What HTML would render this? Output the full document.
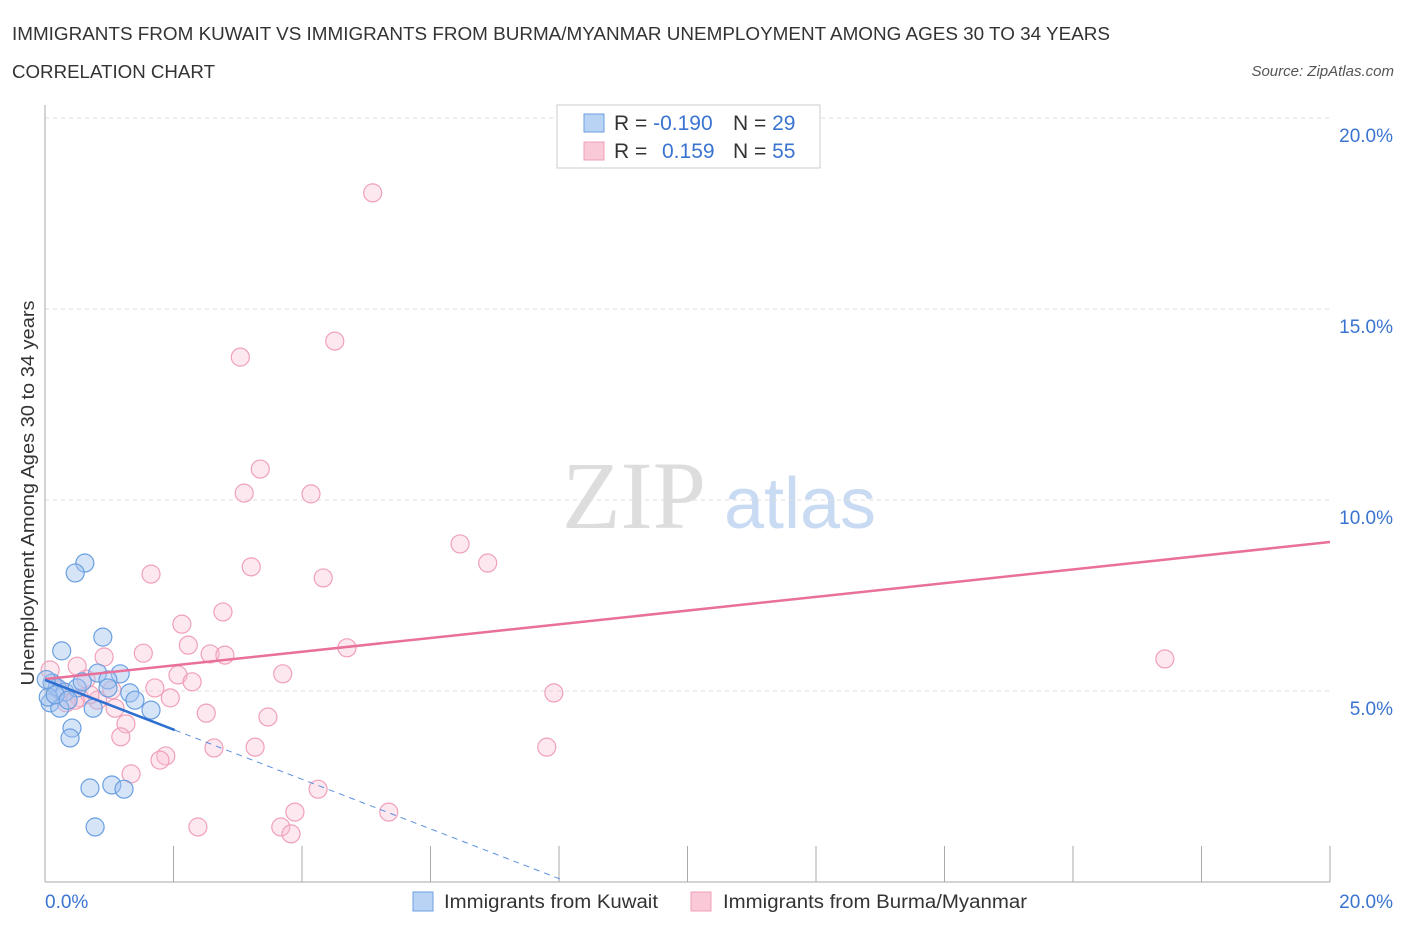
<!DOCTYPE html>
<html><head><meta charset="utf-8"><style>
body{margin:0;background:#fff;font-family:"Liberation Sans",sans-serif;}
svg{display:block}
</style></head><body>
<svg width="1406" height="930" id="chart">
<text x="12" y="40" font-size="18" fill="#333" textLength="1098" lengthAdjust="spacingAndGlyphs">IMMIGRANTS FROM KUWAIT VS IMMIGRANTS FROM BURMA/MYANMAR UNEMPLOYMENT AMONG AGES 30 TO 34 YEARS</text>
<text x="12" y="78" font-size="18" fill="#333" textLength="203" lengthAdjust="spacingAndGlyphs">CORRELATION CHART</text>
<text x="1394" y="76" font-size="15" fill="#555" font-style="italic" text-anchor="end">Source: ZipAtlas.com</text>
<text x="634" y="528" font-size="96" fill="#ddd" font-family="Liberation Serif" text-anchor="middle">ZIP</text>
<text x="800" y="528" font-size="72" fill="#c9dbf2" text-anchor="middle">atlas</text>
<text transform="translate(34,493) rotate(-90)" font-size="18" fill="#333" text-anchor="middle" textLength="385" lengthAdjust="spacingAndGlyphs">Unemployment Among Ages 30 to 34 years</text>
<g id="grid"></g><g id="pts"></g><g id="trend"></g>
<g>
<rect x="557" y="105" width="263" height="63" fill="#fff" stroke="#ccc"/>
<rect x="584" y="114" width="20" height="18" fill="#b9d3f5" stroke="#6a9fe0"/>
<rect x="584" y="142" width="20" height="18" fill="#f9c9d8" stroke="#f0a0b8"/>
<text x="614" y="130" font-size="21" fill="#333">R = <tspan fill="#3a74d0">-0.190</tspan></text>
<text x="733" y="130" font-size="21" fill="#333">N = <tspan fill="#3a74d0">29</tspan></text>
<text x="614" y="158" font-size="21" fill="#333">R = <tspan fill="#3a74d0" x="662">0.159</tspan></text>
<text x="733" y="158" font-size="21" fill="#333">N = <tspan fill="#3a74d0">55</tspan></text>
</g>
<g><rect x="413" y="892" width="20" height="19" fill="#b9d3f5" stroke="#6a9fe0"/><text x="444" y="908" font-size="19" fill="#333" textLength="214" lengthAdjust="spacingAndGlyphs">Immigrants from Kuwait</text></g>
<g><rect x="691" y="892" width="20" height="19" fill="#f9c9d8" stroke="#f0a0b8"/><text x="723" y="908" font-size="19" fill="#333" textLength="304" lengthAdjust="spacingAndGlyphs">Immigrants from Burma/Myanmar</text></g>
</svg>
<script>
const blueX=[0.62,0.47,0.90,0.26,0.11,0.19,0.31,0.82,1.17,0.98,0.50,0.58,1.32,1.40,0.08,0.23,0.75,1.65,0.42,0.39,0.70,1.04,1.23,0.78,0.05,0.16,0.98,0.36,0.02];
const blueY=[8.35,8.09,6.41,6.05,5.21,5.08,4.97,5.47,5.45,5.29,5.08,5.24,4.95,4.76,4.69,4.55,4.55,4.50,4.03,3.77,2.46,2.54,2.43,1.44,4.84,4.90,5.08,4.76,5.3];
const pinkX=[5.10,4.51,3.04,3.35,3.10,4.14,6.46,6.89,3.21,4.33,1.65,2.77,2.13,2.23,4.70,1.53,2.57,2.80,0.92,17.43,3.70,2.07,2.29,0.64,0.50,1.71,7.92,1.04,1.95,0.82,0.33,2.51,3.47,1.09,1.26,1.18,2.63,3.27,7.81,1.88,1.79,1.34,4.25,5.35,3.89,2.38,3.67,3.83,0.08,0.23,0.54,0.70,0.47];
const pinkY=[18.04,14.16,13.74,10.81,10.18,10.16,8.85,8.35,8.25,7.96,8.06,7.07,6.75,6.20,6.13,5.99,5.97,5.94,5.89,5.84,5.45,5.42,5.24,5.31,5.65,5.08,4.95,5.03,4.82,4.76,4.69,4.42,4.32,4.55,4.14,3.80,3.51,3.53,3.53,3.30,3.19,2.83,2.43,1.83,1.83,1.44,1.44,1.26,5.55,5.03,4.82,4.90,4.76];
const yTicks=[5,10,15,20];
const pinkTrend=[5.31,8.90]; // y at x=0 and x=20
const blueTrend=[5.29,-0.65]; // intercept, slope
const blueSolidEnd=2.02, blueDashEnd=8.07;
const NS="http://www.w3.org/2000/svg";
const sx=v=>45+v*64.25, sy=v=>882-v*38.2;
function mk(t,a,p){const e=document.createElementNS(NS,t);for(const k in a)e.setAttribute(k,a[k]);p.appendChild(e);return e;}
const grid=document.getElementById('grid');
yTicks.forEach(t=>{
 const l=mk('line',{x1:45,x2:1330,y1:sy(t),y2:sy(t),stroke:'#ddd','stroke-dasharray':'4,4'},grid);
 
 
 const tx=mk('text',{x:1393,y:sy(t)+24,'font-size':19,fill:'#3a74d0','text-anchor':'end'},grid);
 tx.textContent=t.toFixed(1)+'%';
 
 
});
const ax=mk('line',{x1:45,x2:1330,y1:882,y2:882,stroke:'#aaa'},grid);


const ay=mk('line',{x1:45,x2:45,y1:105,y2:882,stroke:'#aaa'},grid);


for(let i=1;i<=10;i++){const tk=mk('line',{x1:sx(i*2),x2:sx(i*2),y1:846,y2:882,stroke:'#aaa'},grid);
 
 }
[['0.0%',45,'start'],['20.0%',1393,'end']].forEach(([s,x,a])=>{const t=mk('text',{x:x,y:908,'font-size':19,fill:'#3a74d0','text-anchor':a},grid);t.textContent=s;
 
 });
const pts=document.getElementById('pts');
pinkX.forEach((x,i)=>{const c=mk('circle',{cx:sx(x),cy:sy(pinkY[i]),r:9,fill:'rgba(248,190,208,0.35)',stroke:'#f0a0b8','stroke-width':1.2},pts);
 
 });
blueX.forEach((x,i)=>{const c=mk('circle',{cx:sx(x),cy:sy(blueY[i]),r:9,fill:'rgba(164,196,240,0.45)',stroke:'#6a9fe0','stroke-width':1.2},pts);
 
 });
const tr=document.getElementById('trend');
const pl=mk('line',{x1:sx(0),y1:sy(pinkTrend[0]),x2:sx(20),y2:sy(pinkTrend[1]),stroke:'#e8709a','stroke-width':2.5},tr);


const bf=x=>blueTrend[0]+blueTrend[1]*x;
const bl=mk('line',{x1:sx(0),y1:sy(bf(0)),x2:sx(blueSolidEnd),y2:sy(bf(blueSolidEnd)),stroke:'#2f6fd0','stroke-width':2.5},tr);


const bd=mk('line',{x1:sx(blueSolidEnd),y1:sy(bf(blueSolidEnd)),x2:sx(blueDashEnd),y2:sy(bf(blueDashEnd)),stroke:'#5b8fe0','stroke-width':1,'stroke-dasharray':'6,5'},tr);


</script>
</body></html>
